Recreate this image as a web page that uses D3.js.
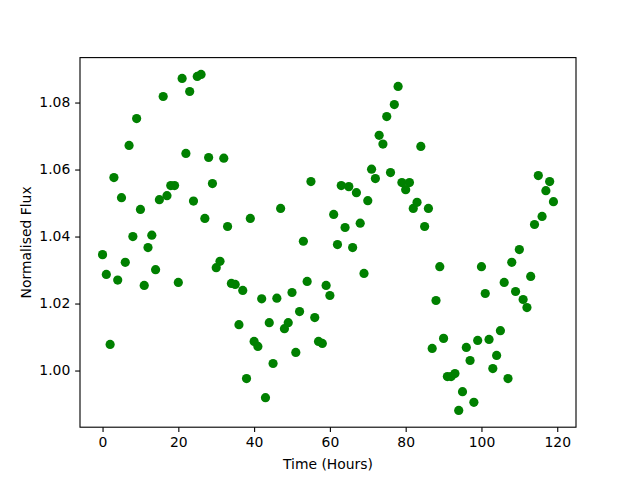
<!DOCTYPE html>
<html>
<head>
<meta charset="utf-8">
<script src="https://cdn.jsdelivr.net/npm/d3@7"></script>
<style>
  body { margin: 0; background: #fff; }
  text { font-family: "DejaVu Sans", sans-serif; }
</style>
</head>
<body>
<div id="chart"></div>
<script>
// hours 0..119, one reading per hour
var hours = d3.range(0, 120);

var flux = [
  1.0346, 1.0287, 1.0078, 1.0576, 1.0270, 1.0516, 1.0323, 1.0672, 1.0400, 1.0752,
  1.0481, 1.0254, 1.0367, 1.0404, 1.0301, 1.0510, 1.0818, 1.0522, 1.0552, 1.0552,
  1.0263, 1.0872, 1.0648, 1.0833, 1.0506, 1.0878, 1.0884, 1.0454, 1.0636, 1.0558,
  1.0307, 1.0326, 1.0634, 1.0430, 1.0260, 1.0257, 1.0137, 1.0239, 0.9976, 1.0454,
  1.0087, 1.0072, 1.0214, 0.9919, 1.0143, 1.0021, 1.0216, 1.0484, 1.0125, 1.0143,
  1.0233, 1.0054, 1.0176, 1.0386, 1.0266, 1.0564, 1.0158, 1.0087, 1.0081, 1.0254,
  1.0224, 1.0466, 1.0376, 1.0552, 1.0427, 1.0549, 1.0367, 1.0531, 1.0440, 1.0290,
  1.0507, 1.0601, 1.0573, 1.0702, 1.0676, 1.0758, 1.0591, 1.0794, 1.0848, 1.0561,
  1.0540, 1.0561, 1.0484, 1.0502, 1.0669, 1.0430, 1.0484, 1.0066, 1.0209, 1.0310,
  1.0096, 0.9982, 0.9982, 0.9991, 0.9881, 0.9937, 1.0069, 1.0030, 0.9905, 1.0090,
  1.0310, 1.0230, 1.0093, 1.0006, 1.0045, 1.0119, 1.0263, 0.9976, 1.0323, 1.0236,
  1.0361, 1.0212, 1.0188, 1.0281, 1.0436, 1.0582, 1.0460, 1.0537, 1.0564, 1.0504
];

var xTicks = [0, 20, 40, 60, 80, 100, 120];
var yTicks = [1.00, 1.02, 1.04, 1.06, 1.08];

var W = 640, H = 480,
    margin = { top: 57.6, right: 64, bottom: 52.8, left: 80 },
    width = W - margin.left - margin.right,
    height = H - margin.top - margin.bottom;

// matplotlib style 5% padding on each side
function padded(ext) {
  var p = (ext[1] - ext[0]) * 0.05;
  return [ext[0] - p, ext[1] + p];
}

var x = d3.scaleLinear().domain(padded(d3.extent(hours))).range([0, width]);
var y = d3.scaleLinear().domain(padded(d3.extent(flux))).range([height, 0]);

var svg = d3.select("#chart").append("svg")
    .attr("width", W).attr("height", H);

var g = svg.append("g")
    .attr("transform", "translate(" + margin.left + "," + margin.top + ")");

var tick = 4.86, lw = 1.11, fs = "13.9px";

g.selectAll("circle")
    .data(hours)
    .enter().append("circle")
    .attr("cx", function (d) { return x(d); })
    .attr("cy", function (d, i) { return y(flux[i]); })
    .attr("r", 4.6)
    .attr("fill", "#008000");

var xAxis = g.append("g")
    .attr("transform", "translate(0," + height + ")")
    .call(d3.axisBottom(x).tickValues(xTicks).tickSize(tick).tickPadding(tick).tickSizeOuter(0));

var yAxis = g.append("g")
    .call(d3.axisLeft(y).tickValues(yTicks).tickFormat(d3.format(".2f"))
        .tickSize(tick).tickPadding(tick).tickSizeOuter(0));

[xAxis, yAxis].forEach(function (a) {
  a.select(".domain").remove();
  a.selectAll("line").attr("stroke", "#000").attr("stroke-width", lw);
  a.selectAll("text").attr("fill", "#000")
      .style("font-family", "DejaVu Sans").style("font-size", fs);
});

g.append("rect")
    .attr("width", width).attr("height", height)
    .attr("fill", "none").attr("stroke", "#000").attr("stroke-width", lw);

g.append("text")
    .attr("x", width / 2).attr("y", height + 41.5)
    .attr("text-anchor", "middle")
    .style("font-size", fs)
    .text("Time (Hours)");

g.append("text")
    .attr("transform", "translate(" + (30.5 - margin.left) + "," + (height / 2) + ") rotate(-90)")
    .attr("text-anchor", "middle")
    .style("font-size", fs)
    .text("Normalised Flux");
</script>
</body>
</html>
